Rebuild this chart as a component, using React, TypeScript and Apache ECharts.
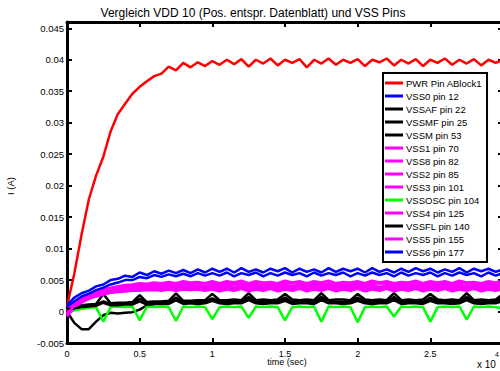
import React, { useEffect, useRef } from "react";
import * as echarts from "echarts";

// time axis (x 10^4 s)
const X = [
  0, 0.05, 0.1, 0.15, 0.2, 0.25, 0.3, 0.35, 0.4, 0.45,
  0.5, 0.55, 0.6, 0.65, 0.7, 0.75, 0.8, 0.85, 0.9, 0.95,
  1, 1.05, 1.1, 1.15, 1.2, 1.25, 1.3, 1.35, 1.4, 1.45,
  1.5, 1.55, 1.6, 1.65, 1.7, 1.75, 1.8, 1.85, 1.9, 1.95,
  2, 2.05, 2.1, 2.15, 2.2, 2.25, 2.3, 2.35, 2.4, 2.45,
  2.5, 2.55, 2.6, 2.65, 2.7, 2.75, 2.8, 2.85, 2.9, 2.95,
  3,
];

// currents in mA
const PWR = [
  0.8, 6.0, 12.2, 17.8, 21.6, 24.6, 28.6, 31.4, 33.0, 34.6,
  35.7, 36.6, 37.4, 37.8, 38.9, 38.3, 39.5, 38.8, 39.6, 39.0,
  39.8, 39.2, 40.0, 39.3, 40.1, 38.9, 40.0, 39.4, 40.2, 39.1,
  40.0, 39.5, 40.1, 38.8, 40.0, 39.4, 40.2, 39.2, 40.0, 39.5,
  40.1, 39.0, 40.0, 39.6, 40.2, 39.1, 40.0, 39.4, 40.1, 39.0,
  40.0, 39.5, 40.2, 39.2, 40.0, 39.4, 40.1, 39.1, 40.0, 39.5,
  40.0,
];
const VSS0 = [
  1.0, 2.2, 2.9, 3.3, 4.0, 4.3, 5.0, 5.2, 5.7, 5.5,
  6.2, 5.8, 6.4, 6.0, 6.5, 6.1, 6.6, 6.1, 6.7, 6.2,
  6.8, 6.3, 6.8, 6.2, 6.9, 6.3, 6.7, 6.2, 6.8, 6.4,
  6.9, 6.2, 6.8, 6.3, 6.7, 6.2, 6.9, 6.3, 6.8, 6.4,
  6.8, 6.2, 6.9, 6.3, 6.7, 6.2, 6.8, 6.3, 6.9, 6.4,
  6.8, 6.2, 6.7, 6.3, 6.9, 6.2, 6.8, 6.4, 6.8, 6.3,
  6.7,
];
const VSSAF = [
  0.3, 0.7, 1.0, 1.1, 1.2, 2.8, 1.3, 1.4, 1.4, 1.5,
  2.6, 1.5, 1.6, 1.6, 1.7, 2.9, 1.7, 1.7, 1.8, 1.8,
  2.8, 1.8, 1.8, 1.9, 1.8, 2.9, 1.8, 1.9, 1.8, 1.9,
  2.8, 1.9, 1.8, 1.9, 1.8, 2.9, 1.8, 1.9, 1.9, 1.8,
  2.8, 1.9, 1.8, 1.9, 1.8, 2.9, 1.8, 1.9, 1.8, 1.9,
  2.8, 1.9, 1.8, 1.9, 1.8, 2.9, 1.8, 1.9, 1.8, 1.9,
  2.8,
];
const VSSMF = [
  0.2, 0.5, 0.8, 1.0, 1.1, 1.6, 1.2, 1.2, 1.3, 1.3,
  2.0, 1.4, 1.4, 1.5, 1.5, 2.2, 1.5, 1.6, 1.5, 1.6,
  2.1, 1.6, 1.5, 1.6, 1.6, 2.3, 1.6, 1.5, 1.6, 1.6,
  2.2, 1.5, 1.6, 1.6, 1.5, 2.3, 1.6, 1.6, 1.5, 1.6,
  2.2, 1.6, 1.5, 1.6, 1.6, 2.3, 1.5, 1.6, 1.6, 1.5,
  2.2, 1.6, 1.6, 1.5, 1.6, 2.3, 1.6, 1.5, 1.6, 1.6,
  2.2,
];
const VSSM = [
  0.0, -1.8, -2.8, -2.8, -1.6, -0.6, -0.2, -0.3, -0.2, -0.1,
  0.3, 1.0, 1.2, 1.3, 1.3, 1.8, 1.4, 1.4, 1.5, 1.4,
  1.9, 1.5, 1.4, 1.5, 1.5, 2.0, 1.5, 1.4, 1.5, 1.5,
  1.9, 1.4, 1.5, 1.5, 1.4, 2.0, 1.5, 1.5, 1.4, 1.5,
  1.9, 1.5, 1.4, 1.5, 1.5, 2.0, 1.4, 1.5, 1.5, 1.4,
  1.9, 1.5, 1.5, 1.4, 1.5, 2.0, 1.5, 1.4, 1.5, 1.5,
  1.9,
];
const VSS1 = [
  0.2, 1.5, 2.3, 2.8, 3.2, 3.5, 3.8, 4.0, 4.2, 4.3,
  4.5, 4.4, 4.6, 4.5, 4.7, 4.5, 4.8, 4.6, 4.7, 4.5,
  4.8, 4.5, 4.8, 4.6, 4.9, 4.5, 4.8, 4.6, 4.7, 4.5,
  4.9, 4.6, 4.8, 4.5, 4.8, 4.6, 4.9, 4.5, 4.7, 4.6,
  4.8, 4.5, 4.9, 4.6, 4.8, 4.5, 4.7, 4.6, 4.9, 4.5,
  4.8, 4.6, 4.8, 4.5, 4.9, 4.6, 4.7, 4.5, 4.8, 4.6,
  4.9,
];
const VSS8 = [
  -0.3, 1.2, 2.0, 2.6, 3.0, 3.3, 3.6, 3.8, 4.0, 4.1,
  4.2, 4.2, 4.3, 4.3, 4.4, 4.3, 4.5, 4.3, 4.5, 4.4,
  4.5, 4.2, 4.6, 4.3, 4.5, 4.2, 4.6, 4.3, 4.5, 4.2,
  4.6, 4.4, 4.5, 4.2, 4.6, 4.3, 4.5, 4.2, 4.6, 4.3,
  4.5, 4.2, 4.6, 4.4, 4.5, 4.2, 4.6, 4.3, 4.5, 4.2,
  4.6, 4.3, 4.5, 4.2, 4.6, 4.4, 4.5, 4.2, 4.6, 4.3,
  4.5,
];
const VSS2 = [
  0.0, 1.0, 1.8, 2.4, 2.8, 3.1, 3.4, 3.6, 3.8, 3.9,
  4.0, 4.0, 4.1, 4.0, 4.2, 4.0, 4.2, 4.1, 4.2, 4.0,
  4.2, 4.0, 4.3, 3.9, 4.2, 4.0, 4.3, 3.9, 4.2, 4.0,
  4.3, 4.0, 4.2, 3.9, 4.3, 4.0, 4.2, 3.9, 4.3, 4.0,
  4.2, 4.0, 4.3, 3.9, 4.2, 4.0, 4.3, 3.9, 4.2, 4.0,
  4.3, 4.0, 4.2, 3.9, 4.3, 4.0, 4.2, 3.9, 4.3, 4.0,
  4.2,
];
const VSS3 = [
  -0.6, 0.8, 1.6, 2.2, 2.6, 2.9, 3.2, 3.4, 3.5, 3.6,
  3.7, 3.7, 3.8, 3.7, 3.9, 3.7, 3.9, 3.8, 3.9, 3.7,
  3.9, 3.7, 4.0, 3.6, 3.9, 3.7, 4.0, 3.6, 3.9, 3.7,
  4.0, 3.7, 3.9, 3.6, 4.0, 3.7, 3.9, 3.6, 4.0, 3.7,
  3.9, 3.7, 4.0, 3.6, 3.9, 3.7, 4.0, 3.6, 3.9, 3.7,
  4.0, 3.7, 3.9, 3.6, 4.0, 3.7, 3.9, 3.6, 4.0, 3.7,
  3.9,
];
const VSSOSC = [
  -0.3, 0.2, 0.4, 0.6, 0.7, -1.6, 0.7, 0.8, 0.7, 0.8,
  -1.4, 0.8, 0.7, 0.8, 0.7, -1.5, 0.8, 0.7, 0.8, 0.7,
  -1.2, 0.7, 0.8, 0.7, 0.8, -1.0, 0.8, 0.7, 0.8, 0.7,
  -1.4, 0.7, 0.8, 0.7, 0.8, -1.6, 0.8, 0.7, 0.8, 0.7,
  -1.7, 0.7, 0.8, 0.7, 0.8, -0.8, 0.8, 0.7, 0.8, 0.7,
  -1.6, 0.7, 0.8, 0.7, 0.8, -1.3, 0.8, 0.7, 0.8, 0.7,
  0.5,
];
const VSS4 = [
  -0.8, 0.6, 1.4, 2.0, 2.4, 2.7, 3.0, 3.2, 3.3, 3.4,
  3.5, 3.5, 3.6, 3.5, 3.7, 3.5, 3.7, 3.6, 3.7, 3.5,
  3.7, 3.4, 3.8, 3.5, 3.7, 3.4, 3.8, 3.5, 3.7, 3.4,
  3.8, 3.5, 3.7, 3.4, 3.8, 3.5, 3.7, 3.4, 3.8, 3.5,
  3.7, 3.4, 3.8, 3.5, 3.7, 3.4, 3.8, 3.5, 3.7, 3.4,
  3.8, 3.5, 3.7, 3.4, 3.8, 3.5, 3.7, 3.4, 3.8, 3.5,
  3.7,
];
const VSSFL = [
  0.4, 0.5, 0.7, 0.8, 0.9, 1.4, 1.0, 1.0, 1.1, 1.1,
  1.6, 1.1, 1.2, 1.2, 1.2, 1.8, 1.2, 1.3, 1.2, 1.3,
  1.7, 1.3, 1.2, 1.3, 1.3, 1.8, 1.3, 1.2, 1.3, 1.3,
  1.7, 1.2, 1.3, 1.3, 1.2, 1.8, 1.3, 1.3, 1.2, 1.3,
  1.7, 1.3, 1.2, 1.3, 1.3, 1.8, 1.2, 1.3, 1.3, 1.2,
  1.7, 1.3, 1.3, 1.2, 1.3, 1.8, 1.3, 1.2, 1.3, 1.3,
  1.7,
];
const VSS5 = [
  -0.4, 0.9, 1.7, 2.1, 2.5, 2.8, 3.0, 3.1, 3.2, 3.3,
  3.3, 3.4, 3.4, 3.3, 3.5, 3.3, 3.5, 3.4, 3.5, 3.3,
  3.5, 3.2, 3.5, 3.3, 3.6, 3.2, 3.5, 3.3, 3.6, 3.2,
  3.5, 3.3, 3.6, 3.2, 3.5, 3.3, 3.6, 3.2, 3.5, 3.3,
  3.6, 3.2, 3.5, 3.3, 3.6, 3.2, 3.5, 3.3, 3.6, 3.2,
  3.5, 3.3, 3.6, 3.2, 3.5, 3.3, 3.6, 3.2, 3.5, 3.3,
  3.6,
];
const VSS6 = [
  0.8, 1.6, 2.4, 2.8, 3.4, 3.8, 4.3, 4.6, 5.0, 5.0,
  5.5, 5.3, 5.8, 5.5, 5.9, 5.6, 6.0, 5.6, 6.1, 5.7,
  6.1, 5.7, 6.2, 5.6, 6.1, 5.8, 6.2, 5.6, 6.1, 5.7,
  6.2, 5.8, 6.1, 5.6, 6.2, 5.7, 6.1, 5.8, 6.2, 5.6,
  6.1, 5.7, 6.2, 5.8, 6.1, 5.6, 6.2, 5.7, 6.1, 5.8,
  6.2, 5.6, 6.1, 5.7, 6.2, 5.8, 6.1, 5.6, 6.2, 5.7,
  6.1,
];

const SERIES_NAMES = [
  "PWR Pin ABlock1", "VSS0 pin 12", "VSSAF pin 22", "VSSMF pin 25", "VSSM pin 53",
  "VSS1 pin 70", "VSS8 pin 82", "VSS2 pin 85", "VSS3 pin 101", "VSSOSC pin 104",
  "VSS4 pin 125", "VSSFL pin 140", "VSS5 pin 155", "VSS6 pin 177",
];
const SERIES_DATA = [PWR, VSS0, VSSAF, VSSMF, VSSM, VSS1, VSS8, VSS2, VSS3, VSSOSC, VSS4, VSSFL, VSS5, VSS6];
const SERIES_COLORS = [
  "#ff0000", "#0000ff", "#000000", "#000000", "#000000",
  "#ff00ff", "#ff00ff", "#ff00ff", "#ff00ff", "#00ff00",
  "#ff00ff", "#000000", "#ff00ff", "#0000ff",
];

const TITLE = "Vergleich VDD 10 (Pos. entspr. Datenblatt) und VSS Pins";
const FONT = "'Liberation Sans', Arial, sans-serif";

export default function App() {
  const ref = useRef<HTMLDivElement>(null);
  useEffect(() => {
    if (!ref.current) return;
    const chart = echarts.init(ref.current, null, { renderer: "svg" });
    const axisLine = { show: true, onZero: false, lineStyle: { color: "#000", width: 3 } };
    const axisTick = { show: true, inside: true, length: 5, lineStyle: { color: "#000", width: 2 } };
    const xBase = { type: "value", min: 0, max: 3, interval: 0.5, splitLine: { show: false }, axisLine, axisTick };
    const yBase = { type: "value", min: -0.005, max: 0.046, interval: 0.005, splitLine: { show: false }, axisLine, axisTick };
    const yLabel = (v: number) => {
      const r = Math.round(v * 1000) / 1000;
      return Math.abs(Math.round(r * 200) - r * 200) < 1e-6 ? String(r) : "";
    };
    const option: any = {
      animation: false,
      backgroundColor: "#fff",
      grid: { left: 67, top: 22, right: 7, bottom: 28, containLabel: false },
      xAxis: [
        {
          ...xBase,
          position: "bottom",
          axisLabel: {
            color: "#000", fontSize: 9, fontFamily: FONT, margin: 6, showMaxLabel: false,
            formatter: (v: number) => String(v),
          },
        },
        { ...xBase, position: "top", axisLabel: { show: false } },
      ],
      yAxis: [
        {
          ...yBase,
          position: "left",
          axisLabel: {
            color: "#000", fontSize: 9.5, fontFamily: FONT, margin: 3,
            formatter: yLabel,
          },
        },
        { ...yBase, position: "right", axisLabel: { show: false } },
      ],
      legend: {
        orient: "vertical",
        left: 383,
        top: 73,
        selectedMode: false,
        backgroundColor: "#fff",
        borderColor: "#000",
        borderWidth: 2,
        borderRadius: 0,
        padding: [4, 5, 4, 2],
        itemGap: 1,
        itemWidth: 18,
        itemHeight: 3,
        icon: "rect",
        textStyle: { color: "#000", fontSize: 9.5, fontFamily: FONT, lineHeight: 12, padding: [0, 0, 0, -2] },
        data: SERIES_NAMES,
      },
      series: SERIES_NAMES.map((name, k) => ({
        name,
        type: "line",
        xAxisIndex: 0,
        yAxisIndex: 0,
        showSymbol: false,
        symbol: "none",
        silent: true,
        color: SERIES_COLORS[k],
        lineStyle: { color: SERIES_COLORS[k], width: 2.5 },
        data: X.map((x, i) => [x, SERIES_DATA[k][i] / 1000]),
      })),
      graphic: [
        {
          type: "text", x: 253, y: 13,
          style: { text: TITLE, fill: "#000", font: `12px ${FONT}`, textAlign: "center", textVerticalAlign: "middle" },
        },
        {
          type: "text", x: 10, y: 186, rotation: Math.PI / 2,
          style: { text: "I (A)", fill: "#000", font: `9.5px ${FONT}`, textAlign: "center", textVerticalAlign: "middle" },
        },
        {
          type: "text", x: 287, y: 362,
          style: { text: "time (sec)", fill: "#000", font: `9px ${FONT}`, textAlign: "center", textVerticalAlign: "middle" },
        },
        {
          type: "text", x: 477, y: 364,
          style: { text: "x 10", fill: "#000", font: `10px ${FONT}`, textAlign: "left", textVerticalAlign: "middle" },
        },
        {
          type: "text", x: 495, y: 354,
          style: { text: "4", fill: "#000", font: `7px ${FONT}`, textAlign: "left", textVerticalAlign: "middle" },
        },
      ],
    };
    chart.setOption(option);
    return () => chart.dispose();
  }, []);
  return (
    <div style={{ position: "absolute", left: 0, top: 0, width: 500, height: 371, overflow: "hidden", background: "#fff" }}>
      <div ref={ref} style={{ width: 510, height: 371 }} />
    </div>
  );
}
